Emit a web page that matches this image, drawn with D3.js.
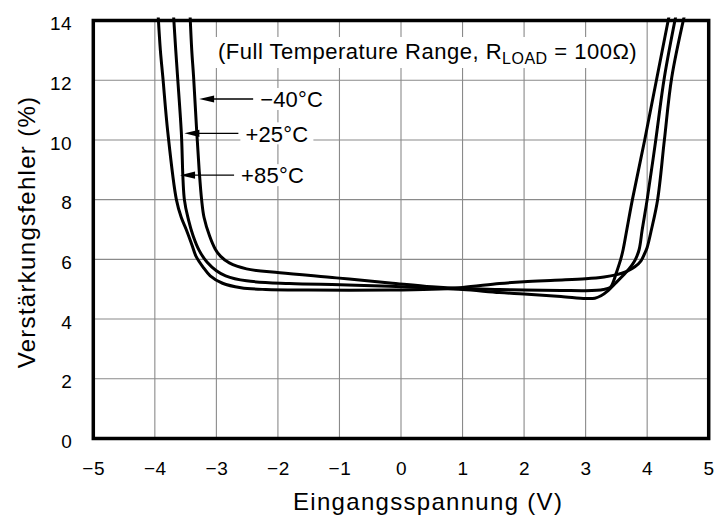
<!DOCTYPE html>
<html><head><meta charset="utf-8">
<script src="https://cdn.jsdelivr.net/npm/d3@7"></script>
<style>body{margin:0;background:#fff}svg text{font-family:"Liberation Sans",Arial,Helvetica,sans-serif;fill:#000}</style>
</head><body>
<svg id="c" width="716" height="519"></svg>
<script>
// ---- data ----
const xTicks = [-5,-4,-3,-2,-1,0,1,2,3,4,5];
const yTicks = [0,2,4,6,8,10,12,14];
const seriesNames = ["\u221240\u00B0C", "+25\u00B0C", "+85\u00B0C"];
// [Eingangsspannung V, Verstärkungsfehler %]
const seriesM40 = [[-3.43,14.3],[-3.40,13],[-3.37,12.1],[-3.32,10.3],[-3.28,9],[-3.24,8],[-3.20,7.4],[-3.11,6.78],[-3.02,6.35],[-2.93,6.1],[-2.79,5.88],[-2.51,5.68],[-1.97,5.55],[-1.05,5.38],[-0.18,5.21],[0.5,5.08],[1.0,5.02],[1.6,4.99],[2.0,4.97],[2.6,4.96],[3.0,4.95],[3.29,4.99],[3.40,5.06],[3.45,5.25],[3.49,5.49],[3.57,6.0],[3.61,6.33],[3.67,7.0],[3.76,8.0],[3.96,10],[4.16,12.1],[4.37,14.3]];
const seriesP25 = [[-3.70,14.3],[-3.66,13],[-3.63,12.1],[-3.57,10.27],[-3.52,8.0],[-3.45,7.3],[-3.38,6.8],[-3.28,6.3],[-3.15,5.9],[-3.0,5.62],[-2.85,5.45],[-2.51,5.28],[-1.81,5.19],[-0.99,5.15],[-0.18,5.1],[0.5,5.04],[1.0,4.99],[1.6,4.89],[2.0,4.84],[2.6,4.76],[3.0,4.69],[3.15,4.70],[3.25,4.78],[3.35,4.93],[3.49,5.21],[3.65,5.55],[3.75,5.8],[3.81,6.0],[3.87,6.33],[3.92,7.0],[4.0,8.0],[4.14,10],[4.28,12.1],[4.48,14.3]];
const seriesP85 = [[-3.95,14.3],[-3.91,13],[-3.87,12.1],[-3.79,10.27],[-3.65,8.0],[-3.57,7.4],[-3.49,7.0],[-3.40,6.5],[-3.33,6.1],[-3.22,5.75],[-3.1,5.45],[-2.9,5.2],[-2.6,5.05],[-2.2,4.99],[-1.5,4.97],[-0.18,4.97],[0.5,5.0],[1.0,5.06],[1.6,5.19],[2.0,5.25],[2.5,5.3],[3.0,5.35],[3.3,5.41],[3.49,5.48],[3.67,5.6],[3.8,5.75],[3.9,5.95],[3.96,6.2],[4.0,6.4],[4.07,7.0],[4.17,8.0],[4.28,10],[4.40,12.1],[4.62,14.3]];
// arrow tips of the annotations, in data coordinates
const labelTipX = [-3.28, -3.52, -3.59];
const labelTipY = [11.37, 10.22, 8.82];
const titleMain = "(Full Temperature Range, R";
const titleSub = "LOAD";
const titleEnd = " = 100\u03A9)";
const xTitle = "Eingangsspannung (V)";
const yTitle = "Verstärkungsfehler (%)";

// ---- layout ----
const svg = d3.select("#c");
const L = 93.3, R = 708.7, T = 20.5, B = 438.5;
const x = d3.scaleLinear().domain([-5,5]).range([L,R]);
const y = d3.scaleLinear().domain([0,14]).range([B,T]);

svg.append("rect").attr("width",716).attr("height",519).attr("fill","#fff");

// grid
const grid = svg.append("g").attr("stroke","#8a8a8a").attr("stroke-width",1.1);
grid.selectAll("line.v").data(xTicks.slice(1,-1)).join("line")
  .attr("x1",d=>x(d)).attr("x2",d=>x(d)).attr("y1",T).attr("y2",B);
grid.selectAll("line.h").data(yTicks.slice(1,-1)).join("line")
  .attr("y1",d=>y(d)).attr("y2",d=>y(d)).attr("x1",L).attr("x2",R);

// title with white background
svg.append("rect").attr("x",212).attr("y",37).attr("width",434).attr("height",31).attr("fill","#fff");
const tt = svg.append("text").attr("x",218).attr("y",59).attr("font-size",22).attr("letter-spacing",0.5);
tt.append("tspan").text(titleMain);
tt.append("tspan").attr("font-size",16).attr("dy",5).text(titleSub);
tt.append("tspan").attr("font-size",22).attr("dy",-5).text(titleEnd);

// annotations
const ann = svg.append("g");
seriesNames.forEach((name,i)=>{
  const tx = x(labelTipX[i]), ty = y(labelTipY[i]);
  const g = ann.append("g");
  const bg = g.append("rect").attr("fill","#fff");
  const t = g.append("text").attr("x",tx+61).attr("y",ty+8.3).attr("font-size",22).attr("letter-spacing",0.2).text(name);
  const bb = t.node().getBBox();
  bg.attr("x",bb.x-5).attr("y",ty-11).attr("width",bb.width+10).attr("height",22);
  g.append("line").attr("x1",tx+10).attr("x2",tx+54).attr("y1",ty).attr("y2",ty).attr("stroke","#000").attr("stroke-width",1.4);
  g.append("path").attr("d",`M${tx},${ty}L${tx+15},${ty-3.6}L${tx+15},${ty+3.6}Z`).attr("fill","#000");
});

// curves
svg.append("clipPath").attr("id","pc").append("rect").attr("x",L).attr("y",T-3).attr("width",R-L).attr("height",B-T+3);
const line = d3.line().x(d=>x(d[0])).y(d=>y(d[1])).curve(d3.curveCatmullRom.alpha(0.5));
svg.append("g").attr("clip-path","url(#pc)")
  .selectAll("path").data([seriesM40,seriesP25,seriesP85]).join("path")
  .attr("d",line).attr("fill","none").attr("stroke","#000").attr("stroke-width",3).attr("stroke-linejoin","round");

// frame
svg.append("rect").attr("x",L).attr("y",T).attr("width",R-L).attr("height",B-T)
  .attr("fill","none").attr("stroke","#000").attr("stroke-width",3.5);

// axes (labels only)
const ax = svg.append("g").attr("transform",`translate(0,${B})`)
  .call(d3.axisBottom(x).tickValues(xTicks).tickSize(0).tickPadding(23));
ax.select(".domain").remove();
ax.selectAll("text").attr("font-size",19).attr("font-family",null).attr("fill","#000").attr("letter-spacing",0.6);
const ay = svg.append("g").attr("transform",`translate(${L},0)`)
  .call(d3.axisLeft(y).tickValues(yTicks).tickSize(0).tickPadding(21));
ay.select(".domain").remove();
ay.selectAll("text").attr("font-size",19).attr("font-family",null).attr("fill","#000").attr("dy","0.48em").attr("letter-spacing",0.6);

// axis titles
svg.append("text").attr("x",293).attr("y",510).attr("font-size",24).attr("letter-spacing",1.3).text(xTitle);
svg.append("text").attr("transform","translate(35,232) rotate(-90)").attr("text-anchor","middle")
  .attr("font-size",24).attr("letter-spacing",1.3).text(yTitle);
</script>
</body></html>
